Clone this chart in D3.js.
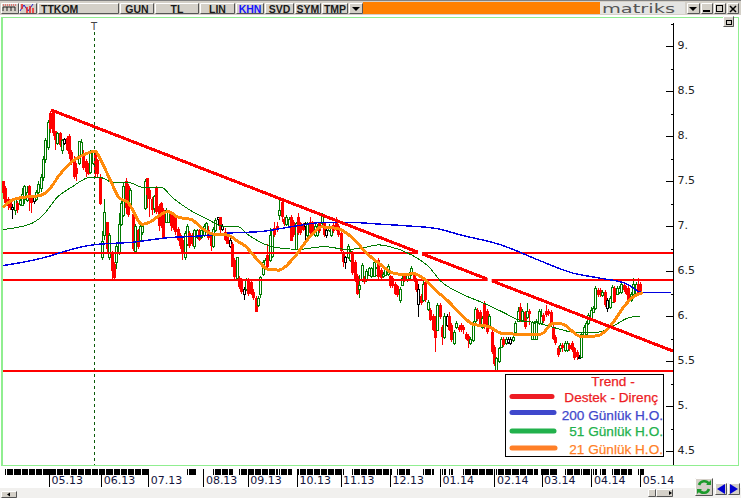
<!DOCTYPE html>
<html><head><meta charset="utf-8">
<script src="https://cdn.jsdelivr.net/npm/d3@7"></script>
<style>html,body{margin:0;padding:0;background:#fff;overflow:hidden}svg{display:block}</style>
</head><body><svg id="c" width="741" height="498"></svg>
<script>
const candleOpen=[
7.50,7.42,7.30,7.28,7.21,7.18,7.26,7.24,7.23,7.30,
7.29,7.45,7.32,7.33,7.30,7.38,7.42,7.55,7.75,7.88,
8.25,8.27,8.05,7.92,8.03,7.85,7.97,7.98,8.00,7.82,
7.75,7.65,7.70,7.80,7.80,7.72,7.68,7.60,7.70,7.80,
7.73,7.55,6.66,6.90,7.05,6.65,6.70,6.58,6.60,6.70,
7.02,7.12,7.50,7.45,7.22,7.13,6.72,6.95,6.85,6.93,
7.20,7.53,7.40,7.30,7.20,7.42,7.22,7.25,7.18,7.05,
7.05,7.15,7.10,7.10,6.97,6.90,6.85,6.65,6.80,6.92,
6.90,6.78,6.88,6.95,6.88,6.90,6.95,6.95,6.90,6.78,
6.95,7.10,7.10,7.00,6.93,6.90,6.85,6.80,6.62,6.42,
6.42,6.40,6.30,6.30,6.40,6.38,6.27,6.20,6.12,6.25,
6.47,6.55,6.68,6.62,6.67,6.98,7.00,7.12,7.27,7.08,
7.02,7.00,7.10,7.05,6.75,7.10,7.03,7.01,7.03,6.90,
7.05,7.04,6.90,6.90,7.03,7.03,7.03,6.95,6.95,6.90,
7.01,7.05,7.00,6.92,6.70,6.65,6.65,6.62,6.70,6.60,
6.45,6.30,6.40,6.42,6.40,6.46,6.44,6.45,6.46,6.62,
6.51,6.44,6.46,6.47,6.44,6.42,6.36,6.33,6.18,6.35,
6.46,6.40,6.42,6.47,6.46,6.40,6.30,6.22,6.18,6.38,
6.08,6.07,6.00,5.98,5.85,6.12,5.88,5.77,6.00,6.00,
5.90,5.70,5.88,5.88,5.90,5.88,5.80,5.78,5.70,5.73,
5.94,6.07,6.05,5.88,6.15,6.06,5.88,5.82,5.66,5.40,
5.50,5.66,5.75,5.70,5.75,5.75,5.73,5.82,5.95,6.10,
5.95,6.04,5.99,6.06,5.75,5.75,5.75,5.92,5.92,6.01,
6.06,6.06,6.05,5.88,5.77,5.65,5.64,5.68,5.62,5.62,
5.68,5.70,5.64,5.60,5.55,5.55,5.79,5.80,5.92,5.97,
6.05,6.09,6.29,6.29,6.23,6.27,6.18,6.10,6.16,6.31,
6.25,6.27,6.27,6.34,6.31,6.31,6.18,6.25,6.25,6.36,6.36];
const candleClose=[
7.37,7.26,7.22,7.20,7.19,7.30,7.18,7.29,7.36,7.44,
7.38,7.30,7.25,7.28,7.38,7.47,7.55,7.75,7.95,8.15,
8.08,8.03,7.95,8.03,7.90,7.96,7.92,7.85,7.80,7.70,
7.55,7.58,7.94,7.93,7.65,7.60,7.58,7.82,7.83,7.58,
7.58,7.24,6.83,7.15,6.75,6.90,6.50,6.42,6.78,7.02,
7.25,7.45,7.20,7.12,7.40,6.75,7.00,6.77,7.00,7.00,
7.50,7.35,7.30,7.18,7.33,7.15,7.00,7.05,6.87,7.18,
7.15,7.00,6.98,6.93,6.85,6.78,6.70,6.92,7.00,6.78,
6.80,6.95,6.95,6.85,6.95,7.00,7.03,6.87,6.78,6.97,
7.07,7.08,6.95,6.97,6.85,6.80,6.78,6.55,6.43,6.66,
6.32,6.27,6.25,6.40,6.25,6.25,6.20,6.05,6.20,6.43,
6.60,6.62,6.55,6.90,6.95,6.90,6.95,7.18,7.10,7.02,
7.10,7.08,6.83,6.90,7.03,6.92,6.92,6.96,7.00,7.03,
6.92,6.93,7.00,7.00,6.94,7.11,6.90,6.90,7.00,6.98,
6.94,6.97,6.90,6.72,6.60,6.60,6.78,6.72,6.48,6.40,
6.25,6.35,6.57,6.38,6.50,6.53,6.53,6.60,6.53,6.43,
6.42,6.47,6.53,6.56,6.33,6.33,6.25,6.23,6.30,6.42,
6.40,6.46,6.47,6.53,6.40,6.29,6.13,6.14,6.36,6.18,
6.16,5.96,5.85,5.76,6.12,5.99,5.77,6.00,5.90,5.85,
5.73,5.82,5.92,5.84,5.84,5.84,5.75,5.72,5.75,5.92,
6.08,5.97,5.90,5.98,5.88,5.82,6.00,5.60,5.47,5.53,
5.64,5.75,5.68,5.75,5.71,5.70,5.77,5.92,6.06,5.95,
6.06,5.88,6.06,6.02,5.93,5.92,5.95,6.06,6.00,5.94,
6.01,6.02,5.92,5.75,5.70,5.57,5.68,5.64,5.70,5.70,
5.63,5.62,5.53,5.55,5.54,5.80,5.88,5.92,6.01,6.07,
6.09,6.31,6.23,6.23,6.27,6.12,6.09,6.20,6.32,6.16,
6.31,6.31,6.36,6.29,6.25,6.16,6.25,6.36,6.36,6.25,6.25];
const candleHigh=[
7.50,7.44,7.32,7.30,7.25,7.32,7.28,7.31,7.42,7.46,
7.45,7.46,7.35,7.35,7.40,7.50,7.58,7.78,7.98,8.18,
8.28,8.27,8.05,8.04,8.04,7.97,7.98,8.00,8.02,7.84,
7.78,7.70,7.94,7.97,7.84,7.75,7.70,7.84,7.85,7.83,
7.75,7.58,6.95,7.30,7.05,6.92,6.72,6.60,6.80,7.15,
7.28,7.48,7.53,7.47,7.42,7.15,7.02,6.97,7.02,7.03,
7.52,7.53,7.42,7.32,7.35,7.44,7.24,7.27,7.20,7.20,
7.17,7.17,7.12,7.12,6.99,6.92,6.87,6.95,7.02,6.94,
6.92,6.97,6.97,6.97,6.97,7.02,7.05,7.00,6.92,6.99,
7.09,7.10,7.10,7.02,6.98,6.92,6.87,6.82,6.64,6.66,
6.44,6.42,6.32,6.42,6.42,6.40,6.30,6.22,6.22,6.45,
6.62,6.64,6.80,6.98,6.97,7.05,7.05,7.29,7.30,7.10,
7.12,7.10,7.12,7.07,7.05,7.15,7.05,7.03,7.05,7.05,
7.10,7.06,7.02,7.02,7.05,7.15,7.05,6.97,7.02,7.00,
7.03,7.10,7.02,6.94,6.72,6.67,6.80,6.74,6.72,6.62,
6.47,6.46,6.59,6.44,6.52,6.55,6.55,6.62,6.55,6.64,
6.53,6.49,6.55,6.58,6.46,6.44,6.38,6.35,6.32,6.44,
6.48,6.48,6.49,6.56,6.48,6.42,6.36,6.24,6.40,6.40,
6.18,6.09,6.02,6.00,6.14,6.14,5.90,6.03,6.02,6.05,
5.92,5.84,5.94,5.90,5.92,5.90,5.82,5.80,5.77,5.94,
6.10,6.09,6.07,6.00,6.17,6.08,6.02,5.84,5.68,5.55,
5.66,5.77,5.77,5.77,5.77,5.77,5.79,5.94,6.10,6.15,
6.08,6.06,6.15,6.08,5.95,5.94,5.97,6.08,6.08,6.03,
6.12,6.08,6.07,5.90,5.79,5.67,5.70,5.70,5.72,5.72,
5.70,5.72,5.66,5.62,5.57,5.82,5.90,5.94,6.03,6.10,
6.11,6.33,6.31,6.31,6.29,6.29,6.20,6.22,6.34,6.33,
6.33,6.33,6.38,6.36,6.33,6.33,6.27,6.42,6.38,6.42,6.38];
const candleLow=[
7.30,7.22,7.18,7.18,7.08,7.12,7.15,7.22,7.22,7.25,
7.27,7.17,7.15,7.25,7.28,7.33,7.38,7.50,7.70,7.85,
8.03,8.00,7.85,7.90,7.88,7.80,7.90,7.83,7.75,7.68,
7.52,7.50,7.68,7.78,7.62,7.55,7.57,7.58,7.68,7.55,
7.55,7.23,6.62,6.85,6.70,6.62,6.40,6.40,6.52,6.68,
7.00,7.10,7.13,7.10,7.20,6.72,6.70,6.75,6.83,6.90,
7.18,7.20,7.10,7.12,7.15,7.13,6.95,6.98,6.87,7.03,
7.03,6.95,6.96,6.90,6.83,6.75,6.62,6.62,6.78,6.76,
6.78,6.75,6.86,6.83,6.86,6.88,6.93,6.85,6.72,6.76,
6.93,7.00,6.90,6.95,6.83,6.80,6.76,6.55,6.41,6.40,
6.30,6.25,6.18,6.28,6.22,6.23,6.18,6.05,6.10,6.20,
6.45,6.53,6.52,6.60,6.65,6.88,6.93,7.07,7.05,7.00,
7.00,6.98,6.83,6.88,6.75,6.90,6.90,6.94,6.85,6.88,
6.90,6.91,6.88,6.88,6.92,7.01,6.88,6.87,6.93,6.88,
6.92,6.95,6.88,6.70,6.55,6.52,6.63,6.60,6.46,6.38,
6.23,6.20,6.38,6.36,6.38,6.44,6.42,6.43,6.44,6.41,
6.40,6.42,6.44,6.45,6.31,6.31,6.23,6.21,6.15,6.33,
6.38,6.38,6.40,6.45,6.38,6.27,5.99,6.12,6.16,6.16,
6.06,5.94,5.83,5.60,5.83,5.97,5.68,5.75,5.88,5.83,
5.71,5.68,5.86,5.82,5.82,5.80,5.73,5.65,5.68,5.71,
5.92,5.95,5.88,5.86,5.86,5.80,5.86,5.58,5.45,5.38,
5.48,5.64,5.66,5.68,5.69,5.68,5.71,5.80,5.93,5.93,
5.93,5.86,5.97,5.90,5.73,5.73,5.73,5.90,5.90,5.92,
5.99,6.00,5.90,5.73,5.68,5.55,5.60,5.60,5.60,5.60,
5.61,5.60,5.51,5.51,5.52,5.53,5.77,5.78,5.90,5.95,
6.03,6.07,6.21,6.21,6.21,6.10,6.05,6.08,6.14,6.14,
6.23,6.25,6.25,6.27,6.23,6.14,6.16,6.23,6.23,6.23,6.23];
const blackDays=[4,13,26,91,93,96,102,128,137,145,176,188,214,215,244,256];

const ma21Days=[0,4,9,16,20,24,29,34,39,42,46,49,53,59,61,70,74,80,84,89,95,100,102,108,112,117,123,130,135,142,148,154,160,165,170,174,179,184,188,194,199,206,211,216,228,233,237,245,252,257,263,266,271];
const ma21=[7.21,7.29,7.32,7.34,7.42,7.57,7.71,7.79,7.83,7.70,7.48,7.32,7.26,7.02,7.03,7.16,7.10,7.07,6.98,6.91,6.90,6.82,6.79,6.62,6.52,6.51,6.64,6.88,6.99,6.97,6.87,6.70,6.57,6.48,6.46,6.47,6.40,6.27,6.18,6.02,5.91,5.88,5.81,5.80,5.80,5.92,5.91,5.77,5.78,5.88,6.10,6.19,6.26];
const ma51Days=[0,5,13,17,23,29,37,41,47,54,59,67,72,79,87,93,99,104,114,125,136,146,153,159,164,173,181,185,194,203,212,218,227,235,242,252,258,265,270];
const ma51=[6.96,6.98,7.04,7.12,7.32,7.43,7.54,7.54,7.48,7.48,7.43,7.43,7.31,7.18,7.07,7.00,7.00,6.90,6.77,6.74,6.77,6.74,6.76,6.79,6.77,6.68,6.53,6.40,6.25,6.15,6.04,5.96,5.92,5.86,5.82,5.82,5.88,5.98,6.00];
const ma200Days=[0,19,25,38,55,70,84,95,110,124,136,147,160,172,184,194,211,227,241,253,264,271,283];
const ma200=[6.56,6.66,6.71,6.79,6.82,6.87,6.89,6.92,6.94,7.00,7.04,7.04,7.02,7.00,6.97,6.90,6.79,6.62,6.48,6.42,6.36,6.26,6.26];

const trendDays=[20.3,283.9];
const trendValues=[8.29,5.61];
const supportLevels=[6.7,6.4,5.39];
const markerDay=38.6;
const markerLabel="T";

const yMajor=[9,8.5,8,7.5,7,6.5,6,5.5,5,4.5];
const yMinor=[9.25,8.75,8.25,7.75,7.25,6.75,6.25,5.75,5.25,4.75];
const yLabels=["9.","8.5","8.","7.5","7.","6.5","6.","5.5","5.","4.5"];
const monthDays=[19.5,41.6,61.5,84.9,103.7,124.6,143,164,185.2,208.2,228.2,249.3,270];
const monthLabels=["05.13","06.13","07.13","08.13","09.13","10.13","11.13","12.13","01.14","02.14","03.14","04.14","05.14"];
const sessionRuns=[[1,61],[78,81],[89,97],[100,116],[117,122],[125,144],[148,164],[167,172],[178,182],[186,187],[189,190],[195,208],[209,226],[228,234],[238,244],[245,248],[250,251],[253,255],[258,266],[269,271]];

const legendLabels=["Destek - Direnç","200 Günlük H.O.","51 Günlük H.O.","21 Günlük H.O."];
const legendColors=["#ed1c24","#3f48cc","#22b14c","#ff7f27"];
const toolbarLabels=["TTKOM","GUN","TL","LIN","KHN","SVD","SYM","TMP"];

const svg=d3.select("#c");
const x=d3.scaleLinear().domain([0,284.3]).range([3,674]);
const y=d3.scaleLinear().domain([9,4.5]).range([46,451]);
const FONT="'DejaVu Sans',sans-serif";

/* window chrome */
svg.append("rect").attr("width",741).attr("height",498).attr("fill","#fff");
svg.append("rect").attr("width",741).attr("height",15).attr("fill","#d4d0c8");
svg.append("rect").attr("x",0).attr("y",0).attr("width",741).attr("height",1).attr("fill","#808080");
svg.append("rect").attr("y",466).attr("width",741).attr("height",32).attr("fill","#fff");
svg.append("rect").attr("y",488).attr("width",741).attr("height",10).attr("fill","#f1f0ee");
svg.append("rect").attr("x",2.5).attr("y",17.5).attr("width",736).attr("height",448).attr("fill","#fff").attr("stroke","#90ee90").attr("stroke-width",1);
svg.append("rect").attr("x",1).attr("y",17).attr("width",1).attr("height",449).attr("fill","#90ee90");

const btnX=[38,120,155,200,236,265,295,322], btnW=[81,34,44,35,28,29,26,26];
function btn(x0,y0,w,h){
  svg.append("rect").attr("x",x0).attr("y",y0).attr("width",w).attr("height",h).attr("fill","#d4d0c8");
  svg.append("path").attr("d",`M${x0+.5},${y0+h-.5}V${y0+.5}H${x0+w-.5}`).attr("fill","none").attr("stroke","#fff");
  svg.append("path").attr("d",`M${x0+.5},${y0+h-.5}H${x0+w-.5}V${y0+.5}`).attr("fill","none").attr("stroke","#555");
}
btn(1,3,18,11);btn(19,3,18,11);
svg.append("path").attr("d","M3,11V7H15V11M7,7V11M11,7V11").attr("fill","none").attr("stroke","#222");
svg.append("path").attr("d","M3,5H16").attr("stroke","#e22").attr("stroke-dasharray","1 1");
svg.append("path").attr("d","M20,11L24,5L28,11L33,4").attr("fill","none").attr("stroke","#22c");
svg.append("path").attr("d","M22,4V9M27,7V13M30,6V13M33,8V13").attr("stroke","#e22").attr("stroke-width",1.5);
toolbarLabels.forEach((t,i)=>{
  btn(btnX[i],3,btnW[i],11);
  svg.append("text").attr("x",i===0?41:btnX[i]+btnW[i]/2).attr("y",13).attr("text-anchor",i===0?"start":"middle")
    .attr("font-family","'Liberation Sans',sans-serif").attr("font-size",10.5).attr("font-weight","bold")
    .attr("fill",t==="KHN"?"#1414ff":"#1a1a1a").text(t);
});
btn(349,3,14,11);
svg.append("path").attr("d","M352,7H360L356,11Z").attr("fill","#000");
svg.append("rect").attr("x",363).attr("y",2).attr("width",237).attr("height",12).attr("fill","#ff8000");
svg.append("rect").attr("x",600).attr("y",2).attr("width",85).attr("height",12).attr("fill","#e4e4e2");
svg.append("text").attr("x",602).attr("y",13).attr("font-family",FONT).attr("font-size",12).attr("fill","#555").attr("textLength",73).attr("lengthAdjust","spacingAndGlyphs").text("matriks");
btn(687,3,13,11);svg.append("path").attr("d","M689,7H697L693,11Z").attr("fill","#000");
btn(701,3,12,11);svg.append("rect").attr("x",703).attr("y",10).attr("width",7).attr("height",2).attr("fill","#000");
btn(714,3,12,11);svg.append("rect").attr("x",716.5).attr("y",5.5).attr("width",6).attr("height",6).attr("fill","none").attr("stroke","#000");
btn(727,3,12,11);svg.append("path").attr("d","M730,6L736,12M736,6L730,12").attr("stroke","#000").attr("stroke-width",1.5);
btn(723,16,11,11);svg.append("rect").attr("x",726.5).attr("y",20.5).attr("width",5).attr("height",4).attr("fill","none").attr("stroke","#000");

/* candles */
const days=d3.range(candleOpen.length);
const isBlack=new Set(blackDays);
const tone=i=>isBlack.has(i)?"#000":(candleClose[i]>=candleOpen[i]?"#007a00":"#f00");
const px=i=>Math.round(x(i));
const g=svg.append("g").attr("shape-rendering","crispEdges");
g.selectAll("line.w").data(days).join("line").attr("class","w")
  .attr("x1",i=>px(i)+.5).attr("x2",i=>px(i)+.5)
  .attr("y1",i=>y(candleHigh[i])).attr("y2",i=>y(candleLow[i])).attr("stroke",tone);
days.forEach(i=>{
  const top=Math.round(y(Math.max(candleOpen[i],candleClose[i]))),bot=Math.round(y(Math.min(candleOpen[i],candleClose[i])));
  const up=candleClose[i]>=candleOpen[i]||isBlack.has(i);
  if(up) g.append("rect").attr("x",px(i)-.5).attr("y",top+.5).attr("width",2).attr("height",Math.max(bot-top,1)).attr("fill","#fff").attr("stroke",tone(i));
  else g.append("rect").attr("x",px(i)-1).attr("y",top).attr("width",3).attr("height",Math.max(bot-top,1)).attr("fill",tone(i));
});

/* marker */
svg.append("line").attr("x1",Math.round(x(markerDay))+.5).attr("x2",Math.round(x(markerDay))+.5).attr("y1",32).attr("y2",465)
  .attr("stroke","#0a5a0a").attr("stroke-dasharray","3 3").attr("shape-rendering","crispEdges");
svg.append("text").attr("x",x(markerDay)).attr("y",30).attr("text-anchor","middle").attr("font-family",FONT).attr("font-size",10).attr("fill","#444").text(markerLabel);

/* support */
svg.selectAll("line.s").data(supportLevels).join("line").attr("class","s")
  .attr("x1",3).attr("x2",673).attr("y1",d=>y(d)).attr("y2",d=>y(d)).attr("stroke","#f00").attr("stroke-width",2.4).attr("shape-rendering","crispEdges");

/* moving averages */
const ln=(ds,vs,c,w)=>svg.append("path").datum(ds.map((d,i)=>[d,vs[i]]))
  .attr("d",d3.line().x(d=>x(d[0])).y(d=>y(d[1])).curve(d3.curveMonotoneX))
  .attr("fill","none").attr("stroke",c).attr("stroke-width",w).attr("shape-rendering","crispEdges");
ln(ma51Days,ma51,"#007a00",1);
ln(ma200Days,ma200,"#0000e0",1.4);
ln(ma21Days,ma21,"#ff8a0a",3);

/* trend, with the pale gaps where it crosses the upper two levels */
svg.append("line").attr("x1",x(trendDays[0])).attr("y1",y(trendValues[0])).attr("x2",x(trendDays[1])).attr("y2",y(trendValues[1]))
  .attr("stroke","#f00").attr("stroke-width",3).attr("shape-rendering","crispEdges");
const trendAt=v=>trendDays[0]+(trendValues[0]-v)/(trendValues[0]-trendValues[1])*(trendDays[1]-trendDays[0]);
[supportLevels[0],supportLevels[1]].forEach(v=>{
  svg.append("rect").attr("x",x(trendAt(v))-2).attr("y",y(v)-3).attr("width",4).attr("height",6).attr("fill","#fff");
});

/* y axis */
const axMinor=d3.axisRight(y).tickValues(yMinor).tickSize(-3).tickFormat("");
const axMajor=d3.axisRight(y).tickValues(yMajor).tickSize(-8).tickPadding(4).tickFormat((d,i)=>yLabels[i]);
const ya=svg.append("g").attr("transform","translate(673.5,0)");
ya.call(axMinor);
const yb=svg.append("g").attr("transform","translate(673.5,0)").call(axMajor);
[ya,yb].forEach(s=>{s.select(".domain").remove();s.selectAll("line").attr("stroke","#000").attr("shape-rendering","crispEdges");});
yb.selectAll("text").attr("font-family",FONT).attr("font-size",11).attr("fill","#222").attr("dy","0.25em");
svg.append("line").attr("x1",673.5).attr("x2",673.5).attr("y1",23).attr("y2",465).attr("stroke","#000");

/* sessions strip and x axis */
const sess=svg.append("g").attr("shape-rendering","crispEdges");
sessionRuns.forEach(r=>{
  sess.append("rect").attr("x",x(r[0])).attr("y",469).attr("width",x(r[1])-x(r[0])+1.5).attr("height",6).attr("fill","#000");
  d3.range(r[0],r[1],3).forEach(d=>sess.append("rect").attr("x",x(d)+1).attr("y",469).attr("width",1).attr("height",6).attr("fill","#fff"));
});
const xa=svg.append("g").attr("transform","translate(0,469)")
  .call(d3.axisBottom(x).tickValues(monthDays).tickSize(18).tickPadding(0).tickFormat((d,i)=>monthLabels[i]));
xa.select(".domain").remove();
xa.selectAll("line").attr("stroke","#000").attr("shape-rendering","crispEdges");
xa.selectAll("text").attr("font-family",FONT).attr("font-size",11).attr("fill","#14143c")
  .attr("text-anchor","start").attr("x",2).attr("y",7).attr("dy","0.71em");

/* scroll controls */
btn(1,491,16,7);svg.append("path").attr("d","M7,494.5L10,492.5V496.5Z").attr("fill","#000");
btn(648,489,8,8);btn(656,489,17,8);svg.append("path").attr("d","M672,493L669,491V495Z").attr("fill","#000");
btn(695,478,18,18);
svg.append("path").attr("d","M699,485A5.5,5.5 0 0 1 709,484M709,489A5.5,5.5 0 0 1 699,490").attr("fill","none").attr("stroke","#1c9a2c").attr("stroke-width",2.6);
svg.append("path").attr("d","M706,485H711V480ZM702,489H697V494Z").attr("fill","#1c9a2c");
btn(715,483,12,12);btn(728,483,12,12);
svg.append("path").attr("d","M717,489L725,484V494Z").attr("fill","#0000d0");
svg.append("path").attr("d","M738,489L730,484V494Z").attr("fill","#0000d0");

/* legend */
const lg=svg.append("g");
lg.append("rect").attr("x",505.5).attr("y",374.5).attr("width",158).attr("height",82).attr("fill","#fff").attr("stroke","#000");
const LF="'Liberation Sans',sans-serif";
lg.append("text").attr("x",613).attr("y",386).attr("text-anchor","middle").attr("font-family",LF).attr("font-size",13.6).attr("fill",legendColors[0]).attr("stroke",legendColors[0]).attr("stroke-width",.25).text("Trend -");
const legendYs=[396.5,412.5,431,448],legendTextY=[402,420,436,454],legendRight=[658,663,663,663];
legendLabels.forEach((t,i)=>{
  lg.append("line").attr("x1",512).attr("x2",i===0?552:i===3?555:554).attr("y1",legendYs[i]).attr("y2",legendYs[i]).attr("stroke",legendColors[i]).attr("stroke-width",5).attr("stroke-linecap","round");
  lg.append("text").attr("x",legendRight[i]).attr("y",legendTextY[i]).attr("text-anchor","end").attr("font-family",LF).attr("font-size",13.6).attr("fill",legendColors[i]).attr("stroke",legendColors[i]).attr("stroke-width",.25).text(t);
});
</script></body></html>
